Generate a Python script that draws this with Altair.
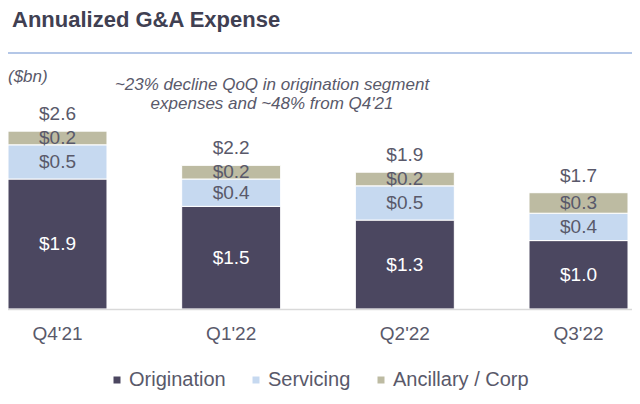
import altair as alt
import pandas as pd

# ---- data ----
quarters = ["Q4'21", "Q1'22", "Q2'22", "Q3'22"]
origination = [1.9, 1.5, 1.3, 1.0]
servicing = [0.5, 0.4, 0.5, 0.4]
ancillary = [0.2, 0.2, 0.2, 0.3]
total_labels = ["$2.6", "$2.2", "$1.9", "$1.7"]
segments = ["Origination", "Servicing", "Ancillary / Corp"]
seg_colors = ["#4b4760", "#c6d9f0", "#bdbba2"]

title_text = "Annualized G&A Expense"
unit_text = "($bn)"
note_lines = ["~23% decline QoQ in origination segment", "expenses and ~48% from Q4'21"]

FONT = "Liberation Sans"
GRAY = "#59596a"

rows = []
for i, q in enumerate(quarters):
    for k, vals in enumerate([origination, servicing, ancillary]):
        rows.append({"quarter": q, "segment": segments[k], "value": vals[i], "order": k})
df = pd.DataFrame(rows)

totals = pd.DataFrame({
    "quarter": quarters,
    "total": [origination[i] + servicing[i] + ancillary[i] for i in range(len(quarters))],
    "label": total_labels,
})
dummy = pd.DataFrame({"d": [0]})

x_enc = alt.X(
    "quarter:N", sort=quarters,
    scale=alt.Scale(paddingInner=0.43, paddingOuter=0),
    axis=alt.Axis(title=None, labelAngle=0, domain=False, ticks=False, tickSize=0,
                  grid=False, labelFontSize=19, labelColor=GRAY, labelFont=FONT,
                  labelPadding=15),
)
y_scale = alt.Scale(domain=[0, 4.4], nice=False, zero=True)

bars = alt.Chart(df).mark_bar(stroke="#ffffff", strokeWidth=1).encode(
    x=x_enc,
    y=alt.Y("value:Q", stack="zero", scale=y_scale, axis=None),
    color=alt.Color(
        "segment:N",
        scale=alt.Scale(domain=segments, range=seg_colors),
        legend=alt.Legend(
            orient="none", legendX=99, legendY=362, direction="horizontal",
            title=None, symbolType="square", symbolSize=49, symbolStrokeWidth=0,
            labelFontSize=20, labelColor=GRAY, labelFont=FONT,
            columnPadding=20, labelOffset=2,
        ),
    ),
    order=alt.Order("order:Q"),
)

stacked = alt.Chart(df).transform_stack(
    stack="value", groupby=["quarter"], as_=["y0", "y1"],
    sort=[alt.SortField("order", order="ascending")],
).transform_calculate(mid="(datum.y0 + datum.y1) / 2")

seg_white = stacked.transform_filter("datum.order == 0").mark_text(
    fontSize=19, baseline="middle", color="#ffffff", font=FONT
).encode(
    x=alt.X("quarter:N", sort=quarters),
    y=alt.Y("mid:Q", scale=y_scale),
    text=alt.Text("value:Q", format="$.1f"),
)
seg_gray = stacked.transform_filter("datum.order > 0").mark_text(
    fontSize=19, baseline="middle", color=GRAY, font=FONT
).encode(
    x=alt.X("quarter:N", sort=quarters),
    y=alt.Y("mid:Q", scale=y_scale),
    text=alt.Text("value:Q", format="$.1f"),
)

tot_text = alt.Chart(totals).mark_text(
    fontSize=19, baseline="alphabetic", dy=-11, color=GRAY, font=FONT
).encode(
    x=alt.X("quarter:N", sort=quarters),
    y=alt.Y("total:Q", scale=y_scale),
    text="label:N",
)

base_rule = alt.Chart(dummy).mark_rule(color="#d9d9d9", strokeWidth=1.5).encode(
    x=alt.value(0), x2=alt.value(624), y=alt.value(301.5)
)
blue_rule = alt.Chart(dummy).mark_rule(color="#b4c7e7", strokeWidth=2).encode(
    x=alt.value(0), x2=alt.value(624), y=alt.value(45)
)
title = alt.Chart(dummy).mark_text(
    text=title_text, fontSize=22, fontWeight="bold", color="#404052",
    align="left", baseline="alphabetic", font=FONT
).encode(x=alt.value(4), y=alt.value(19))
unit = alt.Chart(dummy).mark_text(
    text=unit_text, fontSize=17, fontStyle="italic", color=GRAY,
    align="left", baseline="alphabetic", font=FONT
).encode(x=alt.value(0), y=alt.value(74))
note = alt.Chart(dummy).mark_text(
    text=note_lines, fontSize=17, fontStyle="italic", color=GRAY,
    align="center", baseline="alphabetic", lineHeight=19, font=FONT
).encode(x=alt.value(264), y=alt.value(82))

chart = alt.layer(
    bars, base_rule, seg_white, seg_gray, tot_text, blue_rule, title, unit, note
).properties(
    width=620, height=301,
    autosize=alt.AutoSizeParams(type="none"),
    padding={"left": 0, "top": 0, "right": 4, "bottom": 87},
).configure(font=FONT).configure_view(stroke=None)

chart.save("out.html", embed_options={"renderer": "svg", "actions": False})
